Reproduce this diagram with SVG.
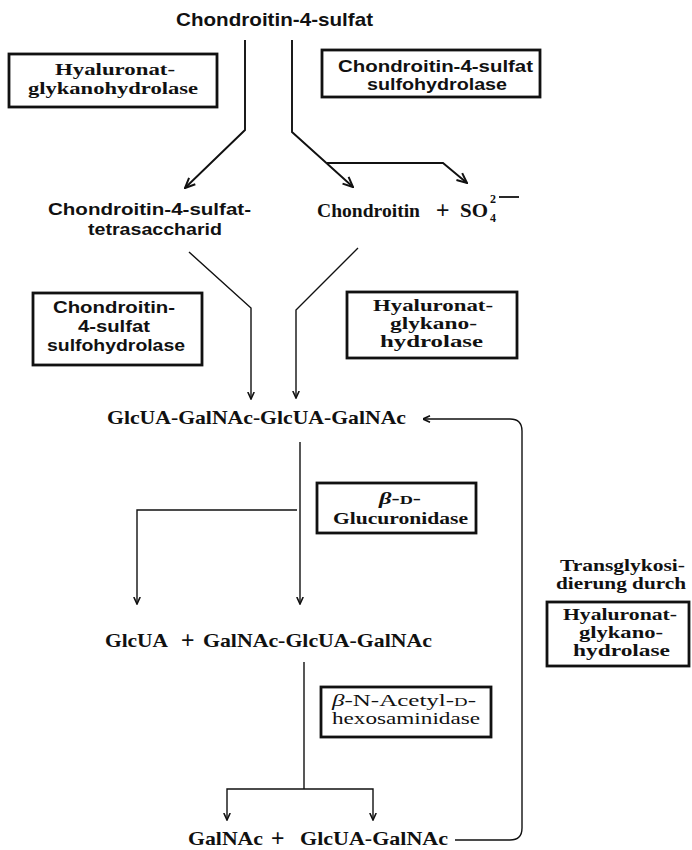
<svg xmlns="http://www.w3.org/2000/svg" width="692" height="850" viewBox="0 0 692 850">
<style>
.s{font-family:"Liberation Sans",Arial,sans-serif;font-weight:bold;fill:#111}
.r{font-family:"Liberation Serif","Times New Roman",serif;font-weight:bold;fill:#111}
.rn{font-family:"Liberation Serif","Times New Roman",serif;font-weight:normal;fill:#111}
.p{font-family:"Liberation Sans",Arial,sans-serif;font-weight:normal;font-size:23px}
.box{fill:none;stroke:#111;stroke-width:2.8}
.ln{fill:none;stroke:#111;stroke-width:1.9}
.ln2{fill:none;stroke:#111;stroke-width:1.4}
</style>
<defs>
<marker id="ah" viewBox="0 0 12 12" refX="11" refY="6" markerWidth="12" markerHeight="12" markerUnits="userSpaceOnUse" orient="auto">
<path d="M1,1.5 L11,6 L1,10.5" fill="none" stroke="#111" stroke-width="2"/>
</marker>
<marker id="as" viewBox="0 0 8 8" refX="7.5" refY="4" markerWidth="8" markerHeight="8" markerUnits="userSpaceOnUse" orient="auto">
<path d="M0.5,0.8 L7.5,4 L0.5,7.2" fill="none" stroke="#111" stroke-width="1.6"/>
</marker>
</defs>

<g id="connectors">
<path class="ln" d="M245,40 V130 L185,188" marker-end="url(#ah)"/>
<path class="ln" d="M292,40 V132 L353,187" marker-end="url(#ah)"/>
<path class="ln" d="M327,163 H443 L467,183" marker-end="url(#ah)"/>
<path class="ln2" d="M189,252 L251,308 V399" marker-end="url(#as)"/>
<path class="ln2" d="M358,248 L296,310 V398" marker-end="url(#as)"/>
<path class="ln2" d="M300,442 V604" marker-end="url(#as)"/>
<path class="ln2" d="M297,510 H137 V604" marker-end="url(#as)"/>
<path class="ln2" d="M304,662 V789"/>
<path class="ln2" d="M304,789 H227 V820" marker-end="url(#as)"/>
<path class="ln2" d="M304,789 H373 V820" marker-end="url(#as)"/>
<path class="ln2" d="M455,840 H510 Q522,840 522,828 V431 Q522,419 510,419 H423" marker-end="url(#as)"/>
</g>

<g id="chondroitin-4-sulfat">
<text class="s" font-size="19" x="176" y="26" textLength="197" lengthAdjust="spacingAndGlyphs">Chondroitin-4-sulfat</text>
</g>

<g id="enzyme-hyaluronat-1">
<rect class="box" x="9" y="54" width="208" height="53"/>
<text class="r" font-size="16.5"><tspan x="55" y="75" textLength="120" lengthAdjust="spacingAndGlyphs">Hyaluronat-</tspan><tspan x="28" y="94" textLength="170" lengthAdjust="spacingAndGlyphs">glykanohydrolase</tspan></text>
</g>

<g id="enzyme-sulfohydrolase-1">
<rect class="box" x="322" y="50" width="218" height="47"/>
<text class="s" font-size="16"><tspan x="338" y="72" textLength="195" lengthAdjust="spacingAndGlyphs">Chondroitin-4-sulfat</tspan><tspan x="367" y="90" textLength="140" lengthAdjust="spacingAndGlyphs">sulfohydrolase</tspan></text>
</g>

<g id="tetrasaccharid">
<text class="s" font-size="17"><tspan x="48" y="215" textLength="203" lengthAdjust="spacingAndGlyphs">Chondroitin-4-sulfat-</tspan><tspan x="88" y="235" textLength="134" lengthAdjust="spacingAndGlyphs">tetrasaccharid</tspan></text>
</g>

<g id="chondroitin-sulfate">
<text class="r" font-size="19"><tspan x="317" y="217" textLength="103" lengthAdjust="spacingAndGlyphs">Chondroitin</tspan><tspan class="p" x="436" y="218">+</tspan><tspan x="460" y="217" textLength="28" lengthAdjust="spacingAndGlyphs">SO</tspan><tspan font-size="12" x="490" y="222">4</tspan><tspan font-size="12" x="490" y="203">2</tspan></text>
<line x1="499" y1="197" x2="519" y2="197" stroke="#111" stroke-width="1.8"/>
</g>

<g id="enzyme-sulfohydrolase-2">
<rect class="box" x="33" y="293" width="169" height="72"/>
<text class="s" font-size="16"><tspan x="53" y="313" textLength="122" lengthAdjust="spacingAndGlyphs">Chondroitin-</tspan><tspan x="78" y="332" textLength="72" lengthAdjust="spacingAndGlyphs">4-sulfat</tspan><tspan x="47" y="351" textLength="138" lengthAdjust="spacingAndGlyphs">sulfohydrolase</tspan></text>
</g>

<g id="enzyme-hyaluronat-2">
<rect class="box" x="347" y="292" width="170" height="66"/>
<text class="r" font-size="16"><tspan x="373" y="311" textLength="120" lengthAdjust="spacingAndGlyphs">Hyaluronat-</tspan><tspan x="390" y="329" textLength="87" lengthAdjust="spacingAndGlyphs">glykano-</tspan><tspan x="380" y="347" textLength="103" lengthAdjust="spacingAndGlyphs">hydrolase</tspan></text>
</g>

<g id="tetrasaccharide">
<text class="r" font-size="19" x="107" y="424" textLength="299" lengthAdjust="spacingAndGlyphs">GlcUA-GalNAc-GlcUA-GalNAc</text>
</g>

<g id="enzyme-glucuronidase">
<rect class="box" x="317" y="483" width="159" height="50"/>
<text class="r" font-size="16"><tspan x="379" y="504" textLength="42" lengthAdjust="spacingAndGlyphs"><tspan font-style="italic">β</tspan>-<tspan font-size="12">D</tspan>-</tspan><tspan x="333" y="524" font-size="17" textLength="135" lengthAdjust="spacingAndGlyphs">Glucuronidase</tspan></text>
</g>

<g id="trisaccharide">
<text class="r" font-size="19"><tspan x="105" y="647" textLength="63" lengthAdjust="spacingAndGlyphs">GlcUA</tspan><tspan class="p" x="181" y="648">+</tspan><tspan x="203" y="647" textLength="229" lengthAdjust="spacingAndGlyphs">GalNAc-GlcUA-GalNAc</tspan></text>
</g>

<g id="transglykosidierung">
<text class="r" font-size="16"><tspan x="560" y="571" textLength="125" lengthAdjust="spacingAndGlyphs">Transglykosi-</tspan><tspan x="556" y="589" textLength="130" lengthAdjust="spacingAndGlyphs">dierung durch</tspan></text>
</g>

<g id="enzyme-hyaluronat-3">
<rect class="box" x="547" y="602" width="142" height="64"/>
<text class="r" font-size="16"><tspan x="563" y="620" textLength="114" lengthAdjust="spacingAndGlyphs">Hyaluronat-</tspan><tspan x="579" y="638" textLength="84" lengthAdjust="spacingAndGlyphs">glykano-</tspan><tspan x="573" y="656" textLength="97" lengthAdjust="spacingAndGlyphs">hydrolase</tspan></text>
</g>

<g id="enzyme-hexosaminidase">
<rect class="box" x="321" y="687" width="170" height="50"/>
<text class="rn" font-size="16"><tspan x="332" y="706" textLength="144" lengthAdjust="spacingAndGlyphs"><tspan font-style="italic">β</tspan>-N-Acetyl-<tspan font-size="12">D</tspan>-</tspan><tspan x="332" y="724" textLength="148" lengthAdjust="spacingAndGlyphs">hexosaminidase</tspan></text>
</g>

<g id="products">
<text class="r" font-size="19"><tspan x="188" y="845" textLength="75" lengthAdjust="spacingAndGlyphs">GalNAc</tspan><tspan class="p" x="271" y="846">+</tspan><tspan x="300" y="845" textLength="148" lengthAdjust="spacingAndGlyphs">GlcUA-GalNAc</tspan></text>
</g>
</svg>
